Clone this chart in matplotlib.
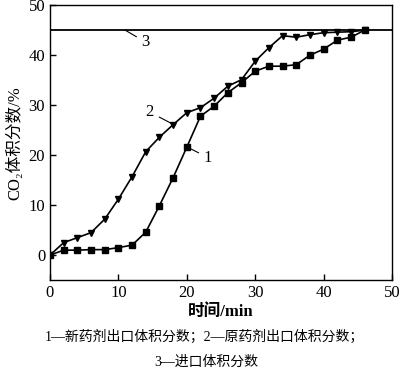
import matplotlib
matplotlib.use("Agg")
import matplotlib.pyplot as plt

plt.rcParams['font.family'] = ['Liberation Serif', 'Noto Sans CJK SC', 'DejaVu Sans']
plt.rcParams['mathtext.fontset'] = 'stix'

t1 = [0, 2, 4, 6, 8, 10, 12, 14, 16, 18, 20, 22, 24, 26, 28, 30, 32, 34, 36, 38, 40, 42, 44, 46]
new_outlet = [0, 1.0, 1.0, 1.1, 1.1, 1.5, 2.0, 4.6, 9.9, 15.5, 21.6, 27.8, 29.8, 32.5, 34.5,
              36.8, 37.8, 37.8, 38.1, 40.0, 41.2, 43.0, 43.6, 45.0]
t2 = [0, 2, 4, 6, 8, 10, 12, 14, 16, 18, 20, 22, 24, 26, 28, 30, 32, 34, 36, 38, 40, 42, 44, 46]
orig_outlet = [0, 2.5, 3.5, 4.5, 7.2, 11.2, 15.7, 20.7, 23.6, 26.1, 28.5, 29.5, 31.4, 33.8, 35.1,
               38.8, 41.5, 43.9, 43.6, 44.1, 44.5, 44.6, 44.7, 45.0]
inlet = 45.0

fig = plt.figure(figsize=(4.0, 3.72), dpi=100)
ax = fig.add_axes([0.125, 0.247, 0.855, 0.739])

ax.axhline(inlet, color='black', lw=1.3)
ax.plot(t1, new_outlet, color='black', lw=1.2, marker='s', ms=4)
ax.plot(t2, orig_outlet, color='black', lw=1.2, marker='v', ms=4.5)

ax.set_xlim(0, 50)
ax.set_ylim(-5, 50)
ax.set_xticks([0, 10, 20, 30, 40, 50])
ax.set_yticks([0, 10, 20, 30, 40, 50])
ax.tick_params(direction='in', labelsize=12, length=4, width=1, top=False, right=False)
for s in ax.spines.values():
    s.set_linewidth(1.0)

ann = dict(arrowstyle='-', color='black', lw=0.8, shrinkA=2, shrinkB=0)
ax.annotate('1', xy=(20.1, 21.6), xytext=(22.5, 19.5), fontsize=12, ha='left', va='center', arrowprops=ann)
ax.annotate('2', xy=(18.1, 26.1), xytext=(14.6, 28.6), fontsize=12, ha='center', va='center', arrowprops=ann)
ax.annotate('3', xy=(11.0, 45.0), xytext=(14.0, 42.6), fontsize=12, ha='center', va='center', arrowprops=ann)

ax.set_xlabel('时间/min', fontsize=12, fontweight='bold', labelpad=2)
ax.set_ylabel('CO₂体积分数/%', fontsize=12, labelpad=4)

fig.text(0.51, 0.094, '1—新药剂出口体积分数；2—原药剂出口体积分数；', ha='center', va='center', fontsize=10)
fig.text(0.515, 0.027, '3—进口体积分数', ha='center', va='center', fontsize=10)

fig.savefig('out.png', dpi=100)
